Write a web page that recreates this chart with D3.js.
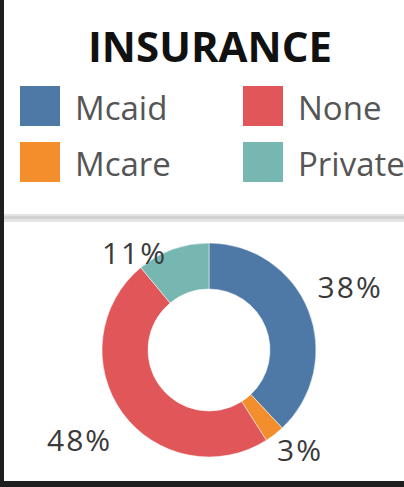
<!doctype html>
<html>
<head>
  <meta charset="utf-8">
  <title>Insurance</title>
  <script src="https://cdn.jsdelivr.net/npm/d3@7"></script>
  <style>
    body { margin: 0; background: #fff; }
    text { font-family: "Open Sans", sans-serif; }
  </style>
</head>
<body>
<div id="chart"></div>
<script>
// data
var categories = ["Mcaid", "Mcare", "None", "Private"];
var shares = [38, 3, 48, 11];
var legendOrder = ["Mcaid", "None", "Mcare", "Private"];
var colors = ["#4e79a7", "#f28e2b", "#e15759", "#76b7b2"];

var width = 404, height = 487;

var svg = d3.select("#chart")
  .append("svg")
    .attr("width", width)
    .attr("height", height);

var color = d3.scaleOrdinal()
  .domain(categories)
  .range(colors);

// frame: left border, divider, bottom border
svg.append("rect").attr("x", 0).attr("y", 0).attr("width", 4).attr("height", height).style("fill", "#1e1e1e");
svg.append("rect").attr("x", 4).attr("y", 214).attr("width", width).attr("height", 8).style("fill", "#e4e4e4");
svg.append("rect").attr("x", 4).attr("y", 216).attr("width", width).attr("height", 3).style("fill", "#d2d2d2");
svg.append("rect").attr("x", 0).attr("y", 481).attr("width", width).attr("height", 6).style("fill", "#1e1e1e");

// title
svg.append("text")
  .attr("x", 210)
  .attr("y", 62)
  .style("text-anchor", "middle")
  .style("font-size", "42px")
  .style("font-weight", "bold")
  .style("fill", "#111")
  .text("INSURANCE");

// legend, two columns
var legend = svg.append("g")
  .selectAll("g")
  .data(legendOrder)
  .enter()
  .append("g")
    .attr("transform", function(d, i) {
      return "translate(" + (20 + (i % 2) * 223) + "," + (86 + Math.floor(i / 2) * 56) + ")";
    });

legend.append("rect")
  .attr("width", 40)
  .attr("height", 40)
  .style("fill", function(d) { return color(d); });

legend.append("text")
  .attr("x", 55)
  .attr("y", 34)
  .style("font-size", "33px")
  .style("fill", "#555")
  .text(function(d) { return d; });

// donut
var cx = 209, cy = 350;
var outer = 107, inner = 61;

var pie = d3.pie()
  .sort(null)
  .value(function(d) { return d.value; });

var arcs = pie(categories.map(function(c, i) { return {name: c, value: shares[i]}; }));

var arc = d3.arc().innerRadius(inner).outerRadius(outer);

var g = svg.append("g")
  .attr("transform", "translate(" + cx + "," + cy + ")");

g.selectAll("path")
  .data(arcs)
  .enter()
  .append("path")
    .attr("d", arc)
    .style("fill", function(d) { return color(d.data.name); })
    .style("stroke", "#fff")
    .style("stroke-width", 0.5);

// labels sit outside the ring; tableau nudges the crowded ones
var labelArc = d3.arc().innerRadius(155).outerRadius(155);
var nudge = {Mcaid: [-3, -5], Mcare: [-4, -22], None: [-4, -1], Private: [-22, 49]};

g.selectAll(".lbl")
  .data(arcs)
  .enter()
  .append("text")
    .attr("class", "lbl")
    .attr("transform", function(d) {
      var p = labelArc.centroid(d), n = nudge[d.data.name];
      return "translate(" + (p[0] + n[0]) + "," + (p[1] + n[1]) + ")";
    })
    .attr("dy", "0.35em")
    .style("text-anchor", "middle")
    .style("font-size", "30px")
    .style("letter-spacing", "2px")
    .style("fill", "#3a3a3a")
    .text(function(d) { return d.data.value + "%"; });
</script>
</body>
</html>
